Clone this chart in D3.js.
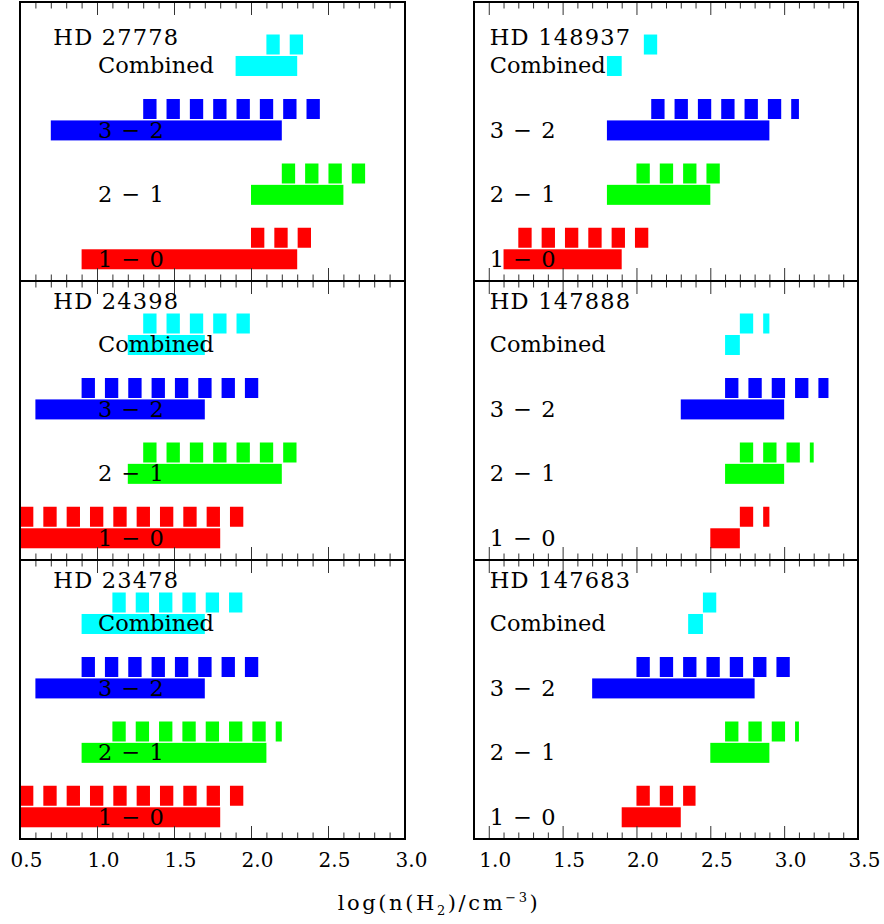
<!DOCTYPE html>
<html>
<head>
<meta charset="utf-8">
<script src="https://cdn.jsdelivr.net/npm/d3@7"></script>
<style>
  html, body { margin: 0; padding: 0; background: #fff; }
  svg { display: block; }
  text { font-family: "DejaVu Serif", "Liberation Serif", serif; fill: #000; }
</style>
</head>
<body>
<svg id="chart" width="884" height="924"></svg>
<script>
// ---------------- DATA ----------------
// rows from bottom to top
const rowLabels = ["1 \u2212 0", "2 \u2212 1", "3 \u2212 2", "Combined"];
const colors = ["#ff0000", "#00ff00", "#0000ff", "#00ffff"];

const starsLeft = ["HD 27778", "HD 24398", "HD 23478"];
const starsRight = ["HD 148937", "HD 147888", "HD 147683"];

// [low, high] ranges of log n(H2), order: 1-0, 2-1, 3-2, Combined
const hd27778Solid  = [[0.9, 2.3], [2.0, 2.6], [0.7, 2.2], [1.9, 2.3]];
const hd27778Dashed = [[2.0, 2.4], [2.2, 2.76], [1.3, 2.48], [2.1, 2.35]];

const hd24398Solid  = [[0.5, 1.8], [1.2, 2.2], [0.6, 1.7], [1.2, 1.7]];
const hd24398Dashed = [[0.5, 2.0], [1.3, 2.3], [0.9, 2.1], [1.3, 2.0]];

const hd23478Solid  = [[0.5, 1.8], [0.9, 2.1], [0.6, 1.7], [0.9, 1.7]];
const hd23478Dashed = [[0.5, 2.0], [1.1, 2.2], [0.9, 2.1], [1.1, 2.0]];

const hd148937Solid  = [[1.1, 1.9], [1.8, 2.5], [1.8, 2.9], [1.8, 1.9]];
const hd148937Dashed = [[1.2, 2.1], [2.0, 2.6], [2.1, 3.1], [2.05, 2.15]];

const hd147888Solid  = [[2.5, 2.7], [2.6, 3.0], [2.3, 3.0], [2.6, 2.7]];
const hd147888Dashed = [[2.7, 2.9], [2.7, 3.2], [2.6, 3.3], [2.7, 2.9]];

const hd147683Solid  = [[1.9, 2.3], [2.5, 2.9], [1.7, 2.8], [2.35, 2.45]];
const hd147683Dashed = [[2.0, 2.4], [2.6, 3.1], [2.0, 3.05], [2.45, 2.55]];

const leftDomain = [0.5, 3.0];
const rightDomain = [0.9, 3.5];
const leftTickLabels = [0.5, 1.0, 1.5, 2.0, 2.5, 3.0];
const rightTickLabels = [1.0, 1.5, 2.0, 2.5, 3.0, 3.5];

// ---------------- LAYOUT ----------------
const svg = d3.select("#chart");
const panelTops = [2, 281, 560];
const panelH = 279;
const columns = [
  { x0: 20, x1: 405, domain: leftDomain, stars: starsLeft,
    solids: [hd27778Solid, hd24398Solid, hd23478Solid],
    dashes: [hd27778Dashed, hd24398Dashed, hd23478Dashed],
    tickLabels: leftTickLabels, hdX: 0.71 },
  { x0: 474, x1: 858, domain: rightDomain, stars: starsRight,
    solids: [hd148937Solid, hd147888Solid, hd147683Solid],
    dashes: [hd148937Dashed, hd147888Dashed, hd147683Dashed],
    tickLabels: rightTickLabels, hdX: 1.0 }
];
const hdLabelOffsets = [43, 28, 28];
const barH = 20;

columns.forEach((col, ci) => {
  const x = d3.scaleLinear().domain(col.domain).range([col.x0, col.x1]);
  const minorTicks = d3.range(Math.round(col.domain[0] * 10), Math.round(col.domain[1] * 10) + 1)
    .map(d => d / 10);
  const majorTicks = minorTicks.filter(d => Math.abs(d * 2 - Math.round(d * 2)) < 1e-6);

  panelTops.forEach((top, pi) => {
    const bottom = top + panelH;
    const y = d3.scaleLinear().domain([0, 4.33]).range([bottom, top]);
    const g = svg.append("g");
    const clipId = `clip-${ci}-${pi}`;
    svg.append("clipPath").attr("id", clipId)
      .append("rect").attr("x", col.x0).attr("y", top).attr("width", col.x1 - col.x0).attr("height", panelH);
    const marks = g.append("g").attr("clip-path", `url(#${clipId})`);

    const solids = col.solids[pi];
    const dashes = col.dashes[pi];

    // solid bars
    marks.selectAll("rect.solid").data(solids).join("rect")
      .attr("class", "solid")
      .attr("x", d => x(d[0]))
      .attr("width", d => x(d[1]) - x(d[0]))
      .attr("y", (d, i) => y(i + 0.337) - barH / 2)
      .attr("height", barH)
      .attr("fill", (d, i) => colors[i]);

    // dashed bars
    marks.selectAll("line.dash").data(dashes).join("line")
      .attr("class", "dash")
      .attr("x1", d => x(d[0]))
      .attr("x2", d => x(d[1]))
      .attr("y1", (d, i) => y(i + 0.67))
      .attr("y2", (d, i) => y(i + 0.67))
      .attr("stroke", (d, i) => colors[i])
      .attr("stroke-width", barH)
      .attr("stroke-dasharray", "13.33 10")
      .attr("stroke-linecap", "butt");

    // axes: ticks inward on top and bottom
    const addTicks = (vals, len) => {
      g.append("g").attr("transform", `translate(0,${top})`)
        .call(d3.axisBottom(x).tickValues(vals).tickSize(len).tickFormat(""))
        .call(s => s.select(".domain").remove())
        .call(s => s.selectAll("line").attr("stroke", "#333").attr("stroke-width", 1));
      g.append("g").attr("transform", `translate(0,${bottom})`)
        .call(d3.axisTop(x).tickValues(vals).tickSize(len).tickFormat(""))
        .call(s => s.select(".domain").remove())
        .call(s => s.selectAll("line").attr("stroke", "#333").attr("stroke-width", 1));
    };
    addTicks(minorTicks.filter(d => !majorTicks.includes(d)), 6.5);
    addTicks(majorTicks, 13);

    // row labels
    g.selectAll("text.row").data(rowLabels).join("text")
      .attr("class", "row")
      .attr("x", x(1.0) + 1)
      .attr("y", (d, i) => y(i + 0.337) + 7.5)
      .attr("font-size", 22.5)
      .attr("letter-spacing", d => d === "Combined" ? 0 : 1)
      .text(d => d);

    // star label
    g.append("text")
      .attr("x", x(col.hdX) + 1)
      .attr("y", top + hdLabelOffsets[pi])
      .attr("font-size", 22.5)
      .attr("letter-spacing", 1.2)
      .text(col.stars[pi]);

    // border
    g.append("rect")
      .attr("x", col.x0).attr("y", top)
      .attr("width", col.x1 - col.x0).attr("height", panelH)
      .attr("fill", "none").attr("stroke", "#000").attr("stroke-width", 2);

    // tick labels on the bottom panel only
    if (pi === panelTops.length - 1) {
      g.selectAll("text.tl").data(col.tickLabels).join("text")
        .attr("class", "tl")
        .attr("x", d => x(d) + 6.5)
        .attr("y", bottom + 28)
        .attr("text-anchor", "middle")
        .attr("font-size", 20)
        .text(d => d3.format(".1f")(d));
    }
  });
});

// x-axis title
const title = svg.append("text")
  .attr("x", 439).attr("y", 910)
  .attr("text-anchor", "middle")
  .attr("font-size", 21)
  .attr("letter-spacing", 2.6);
title.append("tspan").text("log(n(H");
title.append("tspan").attr("dy", 5).attr("font-size", 13).text("2");
title.append("tspan").attr("dy", -5).text(")/cm");
title.append("tspan").attr("dy", -8).attr("font-size", 13).text("\u22123");
title.append("tspan").attr("dy", 8).text(")");
</script>
</body>
</html>
